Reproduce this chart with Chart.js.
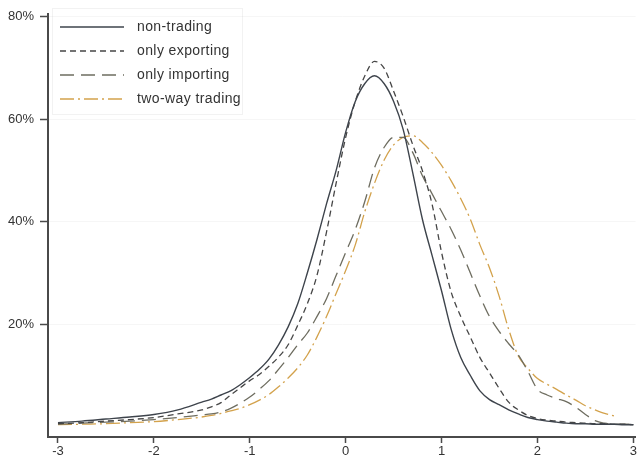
<!DOCTYPE html>
<html>
<head>
<meta charset="utf-8">
<script src="https://cdn.jsdelivr.net/npm/chart.js@4"></script>
<style>
  body { margin: 0; background: #fff; }
  #wrap { width: 638px; height: 466px; }
</style>
</head>
<body>
<div id="wrap"><canvas id="chart" width="638" height="466"></canvas></div>
<script>
// x positions shared by all four density curves
const xs = [-3.0, -2.75, -2.5, -2.25, -2.0, -1.75, -1.5,
  -1.4, -1.3, -1.2, -1.1, -1.0, -0.9, -0.8, -0.7, -0.6, -0.5, -0.4, -0.3, -0.2, -0.1,
  0.0, 0.1, 0.2, 0.3, 0.4, 0.5, 0.6, 0.7, 0.8, 0.9,
  1.0, 1.1, 1.2, 1.3, 1.4, 1.5, 1.6, 1.7, 1.8, 1.9,
  2.0, 2.1, 2.2, 2.3, 2.4, 2.5, 2.6, 2.7, 2.8, 2.9, 3.0];

// density in percent
const nonTrading = [0.8, 1.1, 1.5, 1.9, 2.4, 3.3, 4.8,
  5.4, 6.2, 7.0, 8.2, 9.6, 11.2, 13.2, 16.0, 19.5, 24.0, 30.0, 36.5, 43.5, 50.0,
  57.5, 63.5, 67.0, 68.5, 67.0, 63.5, 58.0, 49.5, 40.5, 33.5,
  26.5, 19.0, 13.5, 10.0, 7.0, 5.3, 4.3, 3.3, 2.5, 1.8,
  1.4, 1.1, 0.9, 0.7, 0.6, 0.6, 0.5, 0.5, 0.5, 0.4, 0.4];
const onlyExporting = [0.6, 0.8, 1.1, 1.4, 1.8, 2.5, 3.3,
  3.9, 4.7, 6.2, 7.6, 9.0, 10.2, 11.8, 13.6, 16.0, 19.8, 24.0, 29.5, 38.0, 47.5,
  56.5, 63.5, 68.5, 71.3, 70.0, 65.5, 60.5, 55.0, 50.0, 43.5,
  34.0, 26.3, 21.5, 17.5, 13.5, 10.5, 7.5, 4.8, 3.3, 2.2,
  1.6, 1.3, 1.1, 0.9, 0.8, 0.7, 0.6, 0.6, 0.5, 0.5, 0.4];
const onlyImporting = [0.5, 0.7, 0.9, 1.1, 1.4, 1.8, 2.3,
  2.5, 2.9, 3.6, 4.6, 5.8, 7.3, 9.0, 11.2, 13.5, 16.0, 18.3, 21.5, 25.0, 29.5,
  34.0, 38.5, 44.0, 50.5, 54.5, 56.5, 56.5, 53.5, 49.0, 45.5,
  42.0, 38.5, 34.5, 30.0, 25.5, 21.5, 18.6, 16.2, 14.0, 10.8,
  7.3, 6.2, 5.5, 4.9, 3.8, 2.4, 1.2, 0.7, 0.5, 0.5, 0.5];
const twoWayTrading = [0.4, 0.5, 0.6, 0.8, 1.0, 1.4, 1.9,
  2.2, 2.6, 3.1, 3.6, 4.3, 5.2, 6.3, 7.8, 9.5, 11.5, 14.0, 17.5, 21.5, 26.0,
  30.5, 35.5, 42.0, 47.5, 52.0, 55.0, 56.5, 56.8, 55.5, 53.5,
  51.0, 48.0, 44.5, 40.5, 35.5, 31.0, 25.5, 19.0, 13.8, 11.4,
  9.4, 8.3, 7.3, 6.2, 5.2, 4.1, 3.3, 2.6, 2.1, null, null];

const seriesNames = ['non-trading', 'only exporting', 'only importing', 'two-way trading'];
const xTicks = [-3, -2, -1, 0, 1, 2, 3];
const yTicks = [20, 40, 60, 80];

const pts = ys => xs.map((x, i) => ({ x, y: ys[i] }));
const lineSet = (label, ys, color, dash, width) => ({
  label, data: pts(ys), borderColor: color, backgroundColor: color,
  borderDash: dash, borderWidth: width, pointRadius: 0,
  fill: false, tension: 0.4, cubicInterpolationMode: 'monotone'
});

const axisColor = '#4a4a4a';
const fontFamily = 'Liberation Sans, Arial, sans-serif';

// legend drawn inside the plot, top-left, with the datasets' own dash patterns
const insideLegend = {
  id: 'insideLegend',
  afterDraw(chart) {
    const ctx = chart.ctx;
    const left = chart.chartArea.left;
    ctx.save();
    ctx.strokeStyle = 'rgba(0,0,0,0.05)';
    ctx.lineWidth = 1;
    ctx.strokeRect(left + 4.5, 8.5, 190, 106);
    ctx.font = '14px ' + fontFamily;
    if ('letterSpacing' in ctx) ctx.letterSpacing = '0.4px';
    ctx.textBaseline = 'middle';
    chart.data.datasets.forEach((ds, i) => {
      const y = 27 + i * 24;
      ctx.beginPath();
      ctx.setLineDash(ds.borderDash);
      ctx.strokeStyle = ds.borderColor;
      ctx.lineWidth = ds.borderWidth;
      ctx.moveTo(left + 12, y);
      ctx.lineTo(left + 76, y);
      ctx.stroke();
      ctx.setLineDash([]);
      ctx.fillStyle = '#333';
      ctx.fillText(ds.label, left + 89, y);
    });
    ctx.restore();
  }
};

new Chart(document.getElementById('chart'), {
  type: 'line',
  data: {
    datasets: [
      lineSet(seriesNames[0], nonTrading, '#3e444c', [], 1.4),
      lineSet(seriesNames[1], onlyExporting, '#464646', [6, 4], 1.3),
      lineSet(seriesNames[2], onlyImporting, '#6e6d60', [14, 7], 1.3),
      lineSet(seriesNames[3], twoWayTrading, '#d3a24c', [14, 4, 2, 4], 1.3)
    ]
  },
  plugins: [insideLegend],
  options: {
    responsive: false,
    animation: false,
    layout: { padding: { top: 13, right: 0, left: 0, bottom: 0 } },
    plugins: {
      tooltip: { enabled: false },
      legend: { display: false }
    },
    scales: {
      x: {
        type: 'linear',
        min: -3.104,
        max: 3.023,
        afterBuildTicks: s => { s.ticks = xTicks.map(v => ({ value: v })); },
        afterFit: s => { s.height = 29; },
        ticks: { color: '#333', font: { family: fontFamily, size: 13 }, padding: 1, callback: v => String(v) },
        grid: { drawOnChartArea: false, tickLength: 6, tickColor: axisColor, tickWidth: 1.5 },
        border: { color: axisColor, width: 2 }
      },
      y: {
        min: -2,
        max: 80.6,
        afterBuildTicks: s => { s.ticks = yTicks.map(v => ({ value: v })); },
        afterFit: s => { s.width = 48; },
        ticks: { color: '#333', font: { family: fontFamily, size: 13 }, padding: 6, callback: v => v + '%' },
        grid: { color: 'rgba(0,0,0,0.035)', tickLength: 8, tickColor: axisColor, tickWidth: 1.5 },
        border: { color: axisColor, width: 2 }
      }
    }
  }
});
</script>
</body>
</html>
